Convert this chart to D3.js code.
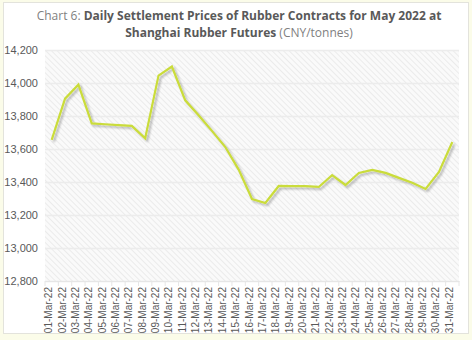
<!DOCTYPE html>
<html><head><meta charset="utf-8">
<script src="https://cdn.jsdelivr.net/npm/d3@7"></script>
<style>
html,body{margin:0;padding:0;background:#fff;}
svg{display:block;}
</style></head>
<body>
<svg id="c" width="472" height="340"></svg>
<script>
const days = ["01","02","03","04","05","06","07","08","09","10","11","12","13","14","15","16","17","18","19","20","21","22","23","24","25","26","27","28","29","30","31"];
const categories = days.map(d => d + "-Mar-22");
const prices = [13655,13905,13990,13755,13750,13745,13740,13665,14045,14100,13895,13805,13710,13612,13475,13297,13273,13376,13375,13375,13370,13442,13382,13455,13473,13455,13425,13395,13358,13461,13642];
const yTicks = [12800,13000,13200,13400,13600,13800,14000,14200];

const svg = d3.select("#c");
const W = 472, H = 340;
svg.append("rect").attr("width",W).attr("height",H).attr("fill","#fbfce9");
svg.append("rect").attr("x",3.5).attr("y",2.5).attr("width",W-7).attr("height",H-9)
  .attr("fill","#fff").attr("stroke","#e3e3dc").attr("stroke-width",1);

const m = {l:45, r:13, t:50, b:58};
const x = d3.scaleBand().domain(categories).range([m.l, W-m.r]);
const y = d3.scaleLinear().domain([12800,14200]).range([H-m.b-1, m.t]);

const defs = svg.append("defs");
const pat = defs.append("pattern").attr("id","hatch").attr("patternUnits","userSpaceOnUse")
  .attr("width",4).attr("height",4).attr("patternTransform","rotate(-45)");
pat.append("rect").attr("width",4).attr("height",4).attr("fill","#fafafa");
pat.append("line").attr("x1",0).attr("y1",0).attr("x2",0).attr("y2",4).attr("stroke","#e6e6e6").attr("stroke-width",1.5);
const f = defs.append("filter").attr("id","sh").attr("x","-10%").attr("y","-10%").attr("width","120%").attr("height","120%");
f.append("feGaussianBlur").attr("in","SourceAlpha").attr("stdDeviation",0.9).attr("result","b");
f.append("feOffset").attr("in","b").attr("dx",1.5).attr("dy",1.8).attr("result","o");
f.append("feComponentTransfer").attr("in","o").attr("result","o2").append("feFuncA").attr("type","linear").attr("slope",0.28);
const mg = f.append("feMerge");
mg.append("feMergeNode").attr("in","o2");
mg.append("feMergeNode").attr("in","SourceGraphic");

const [x0,x1] = x.range();
svg.append("rect").attr("x",x0).attr("y",y(14200)).attr("width",x1-x0).attr("height",y(12800)-y(14200)).attr("fill","url(#hatch)");

// gridlines
svg.append("g").selectAll("line").data(yTicks).join("line")
  .attr("x1",x0).attr("x2",x1).attr("y1",d=>Math.round(y(d))+0.5).attr("y2",d=>Math.round(y(d))+0.5)
  .attr("stroke","#ececec").attr("stroke-width",1.5);

// y axis
const ya = svg.append("g").attr("transform",`translate(${x0},0)`)
  .call(d3.axisLeft(y).tickValues(yTicks).tickSize(0).tickPadding(7).tickFormat(d3.format(",")));
ya.select(".domain").remove();
ya.selectAll("text").attr("font-family","Liberation Sans, Arial, sans-serif").attr("font-size",11).attr("fill","#595959");

// x axis
const xa = svg.append("g").attr("transform",`translate(0,${y(12800)})`)
  .call(d3.axisBottom(x).tickSize(0).tickPadding(6));
xa.select(".domain").attr("stroke","#e6e6e6");
xa.selectAll("text").attr("font-family","Liberation Sans, Arial, sans-serif").attr("font-size",10).attr("fill","#595959")
  .attr("transform","rotate(-90)").attr("text-anchor","end").attr("dx","-0.6em").attr("dy","-0.35em").attr("x",0).attr("y",4);
// band separators ticks
svg.append("g").selectAll("line").data(categories.concat([null])).join("line")
  .attr("x1",(d,i)=>x0+i*x.step()).attr("x2",(d,i)=>x0+i*x.step())
  .attr("y1",y(12800)).attr("y2",y(12800)+5).attr("stroke","#e6e6e6");

// line
const line = d3.line().x((d,i)=>x(categories[i])+x.bandwidth()/2).y(d=>y(d));
svg.append("path").datum(prices).attr("d",line).attr("fill","none")
  .attr("stroke","#cadc3a").attr("stroke-width",2.2).attr("stroke-linejoin","miter").attr("filter","url(#sh)");

// title
const t = svg.append("text").attr("text-anchor","middle").attr("font-family","Open Sans, Noto Sans, sans-serif").attr("font-size",12).attr("fill","#595959");
const l1 = t.append("tspan").attr("x",W/2+3).attr("y",20);
l1.append("tspan").text("Chart 6: ").attr("fill","#7f7f7f");
l1.append("tspan").text("Daily Settlement Prices of Rubber Contracts for May 2022 at").attr("font-weight","bold");
const l2 = t.append("tspan").attr("x",W/2+3).attr("y",37);
l2.append("tspan").text("Shanghai Rubber Futures").attr("font-weight","bold");
l2.append("tspan").text(" (CNY/tonnes)").attr("fill","#7f7f7f");
</script>
</body></html>
